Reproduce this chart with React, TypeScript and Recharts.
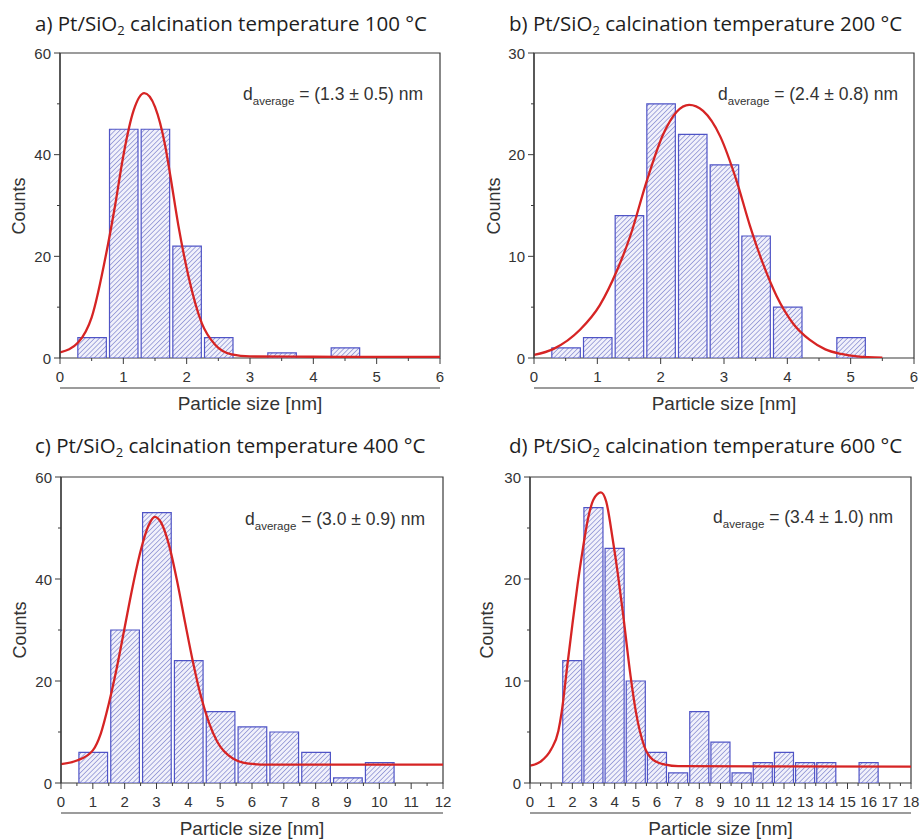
import React from 'react';
import { ComposedChart, Bar, Line, XAxis, YAxis, ReferenceArea } from 'recharts';

// a) 100 °C
const binsA = [0.5, 1, 1.5, 2, 2.5, 3, 3.5, 4, 4.5];
const countsA = [4, 45, 45, 22, 4, 0, 1, 0, 2];
const fitXA = [0, 0.29, 0.5, 0.76, 0.87, 1.0, 1.16, 1.33, 1.5, 1.66, 1.74, 1.87, 2.03, 2.24, 2.45, 2.71, 3.0, 4.0, 5.0, 6.0];
const fitYA = [1.1, 3.1, 8.0, 22.5, 30.0, 39.8, 48.6, 52.1, 49.4, 41.8, 36.0, 26.0, 16.0, 6.8, 2.6, 0.7, 0.3, 0.25, 0.2, 0.2];

// b) 200 °C
const binsB = [0.5, 1, 1.5, 2, 2.5, 3, 3.5, 4, 4.5, 5];
const countsB = [1, 2, 14, 25, 22, 19, 12, 5, 0, 2];
const fitXB = [0, 0.31, 0.73, 1.04, 1.31, 1.52, 1.78, 2.04, 2.25, 2.45, 2.67, 2.94, 3.2, 3.41, 3.62, 3.83, 4.09, 4.35, 4.6, 4.85, 5.1, 5.5];
const fitYB = [0.3, 0.9, 2.8, 5.2, 8.6, 12.0, 17.4, 22.0, 24.2, 24.9, 24.3, 21.8, 17.4, 13.0, 9.2, 6.1, 3.4, 1.8, 0.85, 0.4, 0.15, 0.03];

// c) 400 °C
const binsC = [1, 2, 3, 4, 5, 6, 7, 8, 9, 10];
const countsC = [6, 30, 53, 24, 14, 11, 10, 6, 1, 4];
const fitXC = [0, 0.5, 1.0, 1.25, 1.5, 1.75, 2.0, 2.25, 2.5, 2.75, 2.95, 3.15, 3.4, 3.65, 3.9, 4.15, 4.4, 4.65, 4.9, 5.4, 5.9, 6.5, 12];
const fitYC = [3.7, 4.4, 6.4, 9.7, 15.5, 22.5, 30.5, 38.5, 45.5, 50.5, 52.2, 51.0, 46.5, 39.5, 31.4, 23.6, 16.9, 11.8, 8.2, 4.8, 3.8, 3.6, 3.6];

// d) 600 °C
const binsD = [2, 3, 4, 5, 6, 7, 8, 9, 10, 11, 12, 13, 14, 15, 16];
const countsD = [12, 27, 23, 10, 3, 1, 7, 4, 1, 2, 3, 2, 2, 0, 2];
const fitXD = [0, 0.5, 1.0, 1.34, 1.5, 1.75, 2.0, 2.25, 2.5, 2.75, 3.0, 3.35, 3.6, 3.9, 4.15, 4.4, 4.75, 5.0, 5.4, 5.8, 6.4, 7.0, 18];
const fitYD = [1.7, 2.1, 3.3, 5.1, 7.0, 11.3, 15.5, 19.5, 23.0, 26.0, 27.8, 28.5, 27.6, 24.0, 20.5, 16.5, 10.5, 7.0, 3.6, 2.3, 1.8, 1.65, 1.6];

const AXIS = '#3a3a3a';
const TEXT = '#333';
const BAR_STROKE = '#4f54c6';
const HATCH = '#7b80cc';
const FIT = '#d62424';
const SANS = '"Liberation Sans", Arial, sans-serif';

const range = (max: number, step: number) =>
  Array.from({ length: Math.round(max / step) + 1 }, (_, i) => +(i * step).toFixed(3));

interface PanelProps {
  id: string;
  letter: string;
  temp: number;
  avg: string;
  bins: number[];
  counts: number[];
  fitX: number[];
  fitY: number[];
  xMax: number;
  yMax: number;
  yStep: number;
  binWidth: number;
  plot: { l: number; t: number; r: number; b: number };
  titlePos: { x: number; y: number };
  notePos: { x: number; y: number };
  yLabelX: number;
}

// tick marks drawn by hand so that minor ticks can be shorter and unlabeled
const makeXTick = (axisY: number) => (props: any) => {
  const { x, payload } = props;
  const v = payload.value;
  const major = Math.abs(v - Math.round(v)) < 1e-6;
  return (
    <g>
      <line x1={x} y1={axisY} x2={x} y2={axisY + (major ? 6 : 3)} stroke={AXIS} strokeWidth={1} />
      {major && (
        <text x={x} y={axisY + 18} textAnchor="middle" dominantBaseline="central" fontSize={15} fontFamily={SANS} fill={TEXT}>
          {v}
        </text>
      )}
    </g>
  );
};

const makeYTick = (step: number) => (props: any) => {
  const { x, y, payload } = props;
  const v = payload.value;
  const major = v % step === 0;
  return (
    <g>
      <line x1={x - (major ? 6 : 3)} y1={y} x2={x} y2={y} stroke={AXIS} strokeWidth={1} />
      {major && (
        <text x={x - 9} y={y} textAnchor="end" dominantBaseline="central" fontSize={15} fontFamily={SANS} fill={TEXT}>
          {v}
        </text>
      )}
    </g>
  );
};

const Panel = (p: PanelProps) => {
  const { plot } = p;
  const plotW = plot.r - plot.l;
  const plotH = plot.b - plot.t;
  const m = { top: 15, right: 16, bottom: 0, left: 0 };
  const yAxisW = 60;
  const xAxisH = 40;
  const width = plotW + yAxisW + m.right;
  const height = plotH + m.top + xAxisH;
  const barSize = (p.binWidth * 0.9 * plotW) / p.xMax;
  const data = p.bins.map((x, i) => ({ x, count: p.counts[i] }));
  const fit = p.fitX.map((x, i) => ({ x, y: p.fitY[i] }));
  const hatchId = `hatch-${p.id}`;
  const XTick = makeXTick(m.top + plotH);
  const YTick = makeYTick(p.yStep);

  return (
    <>
      <div
        style={{
          position: 'absolute',
          left: p.titlePos.x,
          top: p.titlePos.y,
          transform: 'translateY(-50%)',
          fontFamily: '"Open Sans", sans-serif',
          fontSize: 20.5,
          lineHeight: 1,
          color: '#1e1e1e',
          whiteSpace: 'nowrap',
        }}
      >
        {p.letter}) Pt/SiO<sub style={{ fontSize: 13, verticalAlign: '-0.3em' }}>2</sub> calcination temperature {p.temp} °C
      </div>
      <div style={{ position: 'absolute', left: plot.l - yAxisW, top: plot.t - m.top }}>
        <ComposedChart width={width} height={height} data={data} margin={m} style={{ overflow: 'visible' }}>
          <defs>
            <pattern id={hatchId} patternUnits="userSpaceOnUse" width={3.4} height={3.4} patternTransform="rotate(45)">
              <rect width={3.4} height={3.4} fill="#f1f1fb" />
              <line x1={0} y1={0} x2={0} y2={3.4} stroke={HATCH} strokeWidth={1.3} />
            </pattern>
          </defs>
          <XAxis
            xAxisId="ticks"
            dataKey="x"
            type="number"
            domain={[0, p.xMax]}
            ticks={range(p.xMax, 0.5)}
            interval={0}
            allowDataOverflow
            height={xAxisH}
            tickSize={0}
            tickMargin={0}
            tickLine={false}
            axisLine={{ stroke: AXIS, strokeWidth: 1.2 }}
            tick={(t: any) => <XTick {...t} />}
          />
          <XAxis xAxisId="bins" dataKey="x" type="number" domain={[0, p.xMax]} allowDataOverflow hide />
          <YAxis
            type="number"
            domain={[0, p.yMax]}
            ticks={range(p.yMax, p.yStep / 2)}
            interval={0}
            allowDataOverflow
            width={yAxisW}
            tickSize={0}
            tickMargin={0}
            tickLine={false}
            axisLine={{ stroke: AXIS, strokeWidth: 1.2 }}
            tick={(t: any) => <YTick {...t} />}
          />
          <Bar
            xAxisId="bins"
            dataKey="count"
            barSize={barSize}
            fill={`url(#${hatchId})`}
            stroke={BAR_STROKE}
            strokeWidth={1.2}
            isAnimationActive={false}
          />
          <Line
            xAxisId="ticks"
            data={fit}
            dataKey="y"
            type="monotone"
            dot={false}
            activeDot={false}
            stroke={FIT}
            strokeWidth={2.3}
            isAnimationActive={false}
          />
          <ReferenceArea
            xAxisId="ticks"
            x1={0}
            x2={p.xMax}
            y1={0}
            y2={p.yMax}
            fill="none"
            stroke={AXIS}
            strokeWidth={1.2}
            ifOverflow="visible"
          />
        </ComposedChart>
      </div>
      <div
        style={{
          position: 'absolute',
          left: p.notePos.x,
          top: p.notePos.y,
          transform: 'translateY(-50%)',
          fontFamily: SANS,
          fontSize: 17.5,
          lineHeight: 1,
          color: TEXT,
          whiteSpace: 'nowrap',
        }}
      >
        d<sub style={{ fontSize: 11.5, verticalAlign: '-0.45em' }}>average</sub> = ({p.avg}) nm
      </div>
      <div
        style={{
          position: 'absolute',
          left: p.yLabelX,
          top: plot.t + plotH / 2,
          transform: 'translate(-50%, -50%) rotate(-90deg)',
          fontFamily: SANS,
          fontSize: 18,
          lineHeight: 1,
          color: TEXT,
          whiteSpace: 'nowrap',
        }}
      >
        Counts
      </div>
      <div
        style={{
          position: 'absolute',
          left: plot.l + plotW / 2,
          top: plot.b + 45,
          transform: 'translate(-50%, -50%)',
          fontFamily: SANS,
          fontSize: 19,
          lineHeight: 1,
          color: TEXT,
          whiteSpace: 'nowrap',
        }}
      >
        Particle size [nm]
      </div>
    </>
  );
};

export default function App() {
  return (
    <div style={{ position: 'absolute', left: 0, top: 0, width: 921, height: 839, overflow: 'hidden', background: '#fff' }}>
      <Panel
        id="a" letter="a" temp={100} avg="1.3 ± 0.5"
        bins={binsA} counts={countsA} fitX={fitXA} fitY={fitYA}
        xMax={6} yMax={60} yStep={20} binWidth={0.5}
        plot={{ l: 60, t: 53, r: 440, b: 358 }}
        titlePos={{ x: 35, y: 25 }} notePos={{ x: 243, y: 97 }} yLabelX={19}
      />
      <Panel
        id="b" letter="b" temp={200} avg="2.4 ± 0.8"
        bins={binsB} counts={countsB} fitX={fitXB} fitY={fitYB}
        xMax={6} yMax={30} yStep={10} binWidth={0.5}
        plot={{ l: 534, t: 53, r: 914, b: 358 }}
        titlePos={{ x: 509, y: 25 }} notePos={{ x: 718, y: 97 }} yLabelX={494}
      />
      <Panel
        id="c" letter="c" temp={400} avg="3.0 ± 0.9"
        bins={binsC} counts={countsC} fitX={fitXC} fitY={fitYC}
        xMax={12} yMax={60} yStep={20} binWidth={1}
        plot={{ l: 61, t: 477, r: 443, b: 783 }}
        titlePos={{ x: 35, y: 447 }} notePos={{ x: 245, y: 522 }} yLabelX={19.5}
      />
      <Panel
        id="d" letter="d" temp={600} avg="3.4 ± 1.0"
        bins={binsD} counts={countsD} fitX={fitXD} fitY={fitYD}
        xMax={18} yMax={30} yStep={10} binWidth={1}
        plot={{ l: 530, t: 477, r: 911, b: 783 }}
        titlePos={{ x: 509, y: 447 }} notePos={{ x: 713, y: 520 }} yLabelX={487}
      />
    </div>
  );
}
